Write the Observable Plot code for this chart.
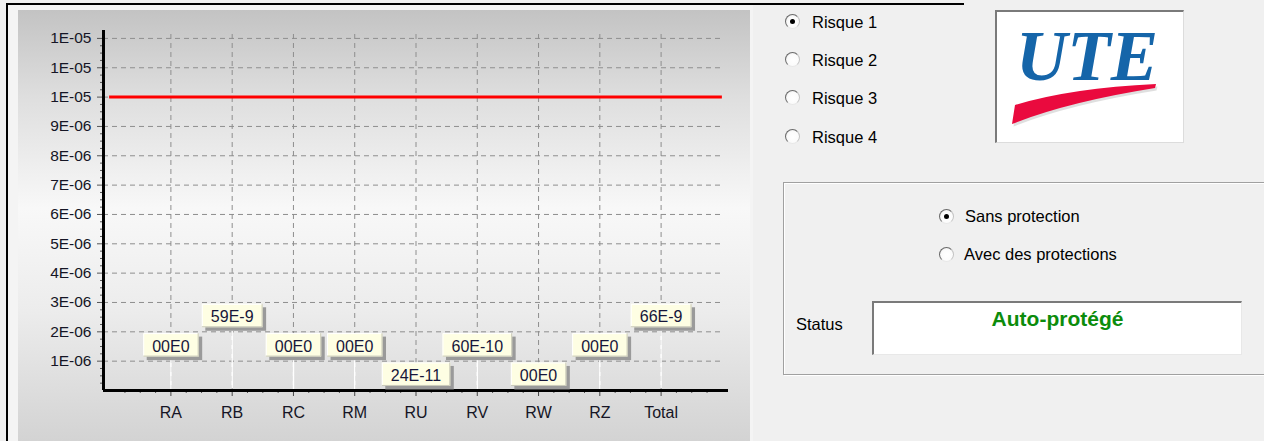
<!DOCTYPE html>
<html>
<head>
<meta charset="utf-8">
<script src="https://cdn.jsdelivr.net/npm/d3@7"></script>
<script src="https://cdn.jsdelivr.net/npm/@observablehq/plot@0.6"></script>
<style>
html,body{margin:0;padding:0;}
body{width:1264px;height:441px;background:#f0f0f0;position:relative;overflow:hidden;font-family:"Liberation Sans",Arial,sans-serif;}
.abs{position:absolute;}
#frameTop{left:6px;top:3px;width:958px;height:2px;background:#000;}
#frameLeft{left:6px;top:3px;width:2px;height:438px;background:#000;}
#panelBack{left:8px;top:5px;width:745px;height:436px;background:#f4f4f4;}
#panel{left:18px;top:10px;width:732px;height:431px;background:linear-gradient(#c3c3c3 0%,#dedede 20%,#f8f8f8 46%,#ececec 70%,#d3d3d3 100%);}
#panel svg{position:absolute;left:0;top:0;}
.radio{position:absolute;width:15px;height:15px;border-radius:50%;box-sizing:border-box;border:1.5px solid;border-color:#6a6a6a #c4c4c4 #e8e8e8 #6a6a6a;background:radial-gradient(circle at 55% 55%,#ffffff 0%,#fbfbfb 55%,#e0e0e0 100%);}
.radio.on::after{content:"";position:absolute;left:3.5px;top:3.5px;width:5px;height:5px;border-radius:50%;background:#000;}
.lbl{position:absolute;font-size:16.5px;line-height:1;color:#000;white-space:nowrap;}
#logo{left:995px;top:10px;width:189px;height:133px;box-sizing:border-box;background:#fff;border-style:solid;border-width:2px 1px 1px 2px;border-color:#7a7a7a #dcdcdc #dcdcdc #7a7a7a;overflow:hidden;}
#ute{position:absolute;left:0;top:8.5px;width:180px;text-align:center;font-family:"Liberation Serif","Times New Roman",serif;font-weight:bold;font-style:italic;font-size:71px;line-height:1;color:#1565a9;}
#group{left:783px;top:182px;width:500px;height:193px;box-sizing:border-box;border:1px solid #a0a0a0;box-shadow:inset 1px 1px 0 #ffffff,1px 1px 0 #ffffff;}
#statusBox{left:872px;top:301px;width:370px;height:54px;box-sizing:border-box;background:#fff;border-style:solid;border-width:2px 1px 1px 2px;border-color:#7a7a7a #e8e8e8 #e8e8e8 #7a7a7a;}
#statusText{position:absolute;left:0;top:5px;width:100%;text-align:center;font-weight:bold;font-size:21px;line-height:1;color:#0c8c0c;}
</style>
</head>
<body>
<div id="panelBack" class="abs"></div>
<div id="frameTop" class="abs"></div>
<div id="frameLeft" class="abs"></div>
<div id="panel" class="abs"></div>

<div class="radio on" style="left:785px;top:14px;"></div>
<div class="lbl" style="left:812px;top:14px;">Risque 1</div>
<div class="radio" style="left:785px;top:52px;"></div>
<div class="lbl" style="left:812px;top:52px;">Risque 2</div>
<div class="radio" style="left:785px;top:90px;"></div>
<div class="lbl" style="left:812px;top:90px;">Risque 3</div>
<div class="radio" style="left:785px;top:129px;"></div>
<div class="lbl" style="left:812px;top:129px;">Risque 4</div>

<div id="logo" class="abs">
  <div id="ute">UTE</div>
  <svg width="189" height="133" style="position:absolute;left:-2px;top:-2px;">
    <path d="M17,114 L20,95 Q76,78 161,74 L160,78 Q72,92 17,114 Z" fill="#b8b8b8" opacity="0.45" transform="translate(1.5,2.5)"/>
    <path d="M17,114 L20,95 Q76,78 161,74 L160,78 Q72,92 17,114 Z" fill="#ea0a3e"/>
  </svg>
</div>

<div id="group" class="abs"></div>
<div class="radio on" style="left:939px;top:209px;"></div>
<div class="lbl" style="left:965px;top:208px;">Sans protection</div>
<div class="radio" style="left:939px;top:247px;"></div>
<div class="lbl" style="left:964px;top:246px;">Avec des protections</div>
<div class="lbl" style="left:796px;top:316px;">Status</div>
<div id="statusBox" class="abs"><div id="statusText">Auto-protégé</div></div>

<script>
// ---- data ----
const categories = ["RA", "RB", "RC", "RM", "RU", "RV", "RW", "RZ", "Total"];
const values = [0, 5.9e-8, 0, 0, 2.4e-10, 6.0e-9, 0, 0, 6.6e-8];
const valueLabels = ["00E0", "59E-9", "00E0", "00E0", "24E-11", "60E-10", "00E0", "00E0", "66E-9"];
const yTickValues = [1e-6, 2e-6, 3e-6, 4e-6, 5e-6, 6e-6, 7e-6, 8e-6, 9e-6, 1e-5, 1.1e-5, 1.2e-5];
const yTickLabels = ["1E-06", "2E-06", "3E-06", "4E-06", "5E-06", "6E-06", "7E-06", "8E-06", "9E-06", "1E-05", "1E-05", "1E-05"];
const tolerableRisk = 1e-5;

// ---- layout (label stacking rows, as placed by the application) ----
const labelRows = [1, 2, 1, 1, 0, 1, 0, 1, 2];
const yMax = 1.227e-5;
const rowStep = 1e-6;

const rows = categories.map((c, i) => ({
  i, cat: c, value: values[i], label: valueLabels[i],
  labelY: (labelRows[i] + 0.5) * rowStep
}));
const xIdx = categories.map((c, i) => i);
const minorX = d3.range(-3, 36).filter(k => k % 4 !== 0).map(k => k / 4);
const minorY = d3.range(1, 49).filter(k => k % 4 !== 0).map(k => k * rowStep / 4);

const font = "Liberation Sans, Arial, sans-serif";
const gridColor = "#8e8e8e";

const svg = Plot.plot({
  width: 732,
  height: 431,
  marginLeft: 85,
  marginRight: 22,
  marginTop: 20,
  marginBottom: 51,
  style: {background: "transparent", fontFamily: font, overflow: "visible"},
  x: {type: "linear", domain: [-1.1, 9.1]},
  y: {type: "linear", domain: [0, yMax]},
  marks: [
    Plot.ruleY(yTickValues, {x1: -1.1, x2: 9, stroke: gridColor, strokeWidth: 1, strokeDasharray: "5,4"}),
    Plot.ruleX(xIdx, {y1: 0, y2: yMax, stroke: gridColor, strokeWidth: 1, strokeDasharray: "5,4"}),
    Plot.ruleY([tolerableRisk], {x1: -1, x2: 9, stroke: "#ff0000", strokeWidth: 3}),
    Plot.ruleX(rows, {x: "i", y1: "value", y2: "labelY", stroke: "#ffffff", strokeWidth: 1.5}),
    Plot.axisY({ticks: minorY, tickSize: 3, tickFormat: () => "", stroke: "#555", label: null}),
    Plot.axisY({ticks: yTickValues, tickSize: 6, tickPadding: 6, stroke: "#555", fill: "#151525",
      fontSize: 15.5, label: null, tickFormat: d => yTickLabels[yTickValues.indexOf(d)]}),
    Plot.axisX({ticks: minorX, tickSize: 3, tickFormat: () => "", stroke: "#555", label: null}),
    Plot.axisX({ticks: xIdx, tickSize: 6, tickPadding: 10, stroke: "#444", fill: "#151525",
      fontSize: 16, label: null, tickFormat: i => categories[i]}),
    Plot.ruleX([-1.1], {y1: 0, y2: yMax, stroke: "#000", strokeWidth: 3}),
    Plot.ruleY([0], {x1: -1.1, x2: 9.1, stroke: "#000", strokeWidth: 3}),
    Plot.text(rows, {x: "i", y: "labelY", text: "label", fontSize: 16, fill: "#16163a"})
  ]
});
document.getElementById("panel").appendChild(svg);

// draw callout boxes behind the value labels
const NS = "http://www.w3.org/2000/svg";
const groups = [...svg.querySelectorAll('g[aria-label="text"]')];
const tg = groups[groups.length - 1];
if (tg) {
  tg.querySelectorAll("text").forEach(t => {
    const b = t.getBBox();
    const tr = t.getAttribute("transform");
    const cy = b.y + b.height / 2;
    const x0 = b.x - 9, w = b.width + 18, y0 = cy - 13, h = 23.5;
    const mk = (tag, attrs) => {
      const e = document.createElementNS(NS, tag);
      for (const k in attrs) e.setAttribute(k, attrs[k]);
      if (tr) e.setAttribute("transform", tr);
      tg.insertBefore(e, t);
      return e;
    };
    mk("rect", {x: x0 + 3.5, y: y0 + 3.5, width: w, height: h, fill: "#9a9a9a"});
    mk("rect", {x: x0, y: y0, width: w, height: h, fill: "#fefee3", stroke: "none"});
    mk("path", {d: `M${x0 + 0.5},${y0 + h}V${y0 + 0.5}H${x0 + w}`, fill: "none", stroke: "#ffffff", "stroke-width": 1});
    mk("path", {d: `M${x0 + w - 0.5},${y0}V${y0 + h - 0.5}H${x0}`, fill: "none", stroke: "#c8c8b8", "stroke-width": 1});
  });
}
</script>
</body>
</html>
